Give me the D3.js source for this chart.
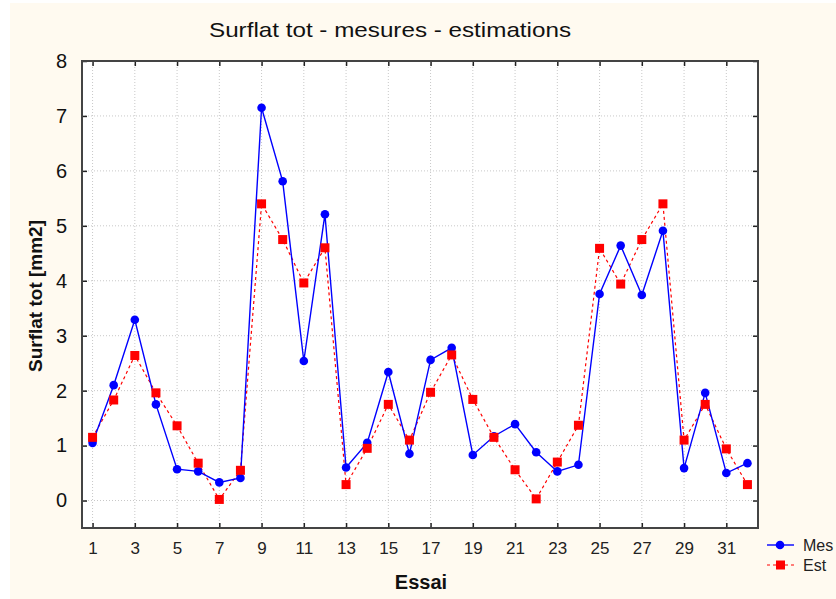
<!DOCTYPE html>
<html lang="en">
<head>
  <meta charset="UTF-8">
  <title>Surflat tot - mesures - estimations</title>
  <style>
    body { margin: 0; background: #fff; }
    svg { display: block; font-family: "Liberation Sans", Arial, sans-serif; }
  </style>
</head>
<body>
  <svg class="chart"></svg>
  <script src="https://cdn.jsdelivr.net/npm/d3@7/dist/d3.min.js"></script>
  <script>
    var w = 836, h = 599;

    // data
    var essai = d3.range(1, 33);
    var mes = [1.05, 2.10, 3.29, 1.75, 0.57, 0.53, 0.33, 0.41, 7.15, 5.81,
               2.54, 5.21, 0.60, 1.05, 2.34, 0.85, 2.56, 2.78, 0.83, 1.17,
               1.39, 0.88, 0.53, 0.65, 3.76, 4.64, 3.74, 4.91, 0.59, 1.96,
               0.50, 0.68];
    var est = [1.15, 1.83, 2.64, 1.96, 1.36, 0.68, 0.02, 0.55, 5.40, 4.75,
               3.96, 4.60, 0.29, 0.95, 1.75, 1.10, 1.97, 2.65, 1.84, 1.15,
               0.56, 0.03, 0.70, 1.37, 4.59, 3.94, 4.75, 5.40, 1.10, 1.75,
               0.94, 0.29];
    var xTicks = d3.range(1, 33, 2);
    var yTicks = d3.range(0, 9);

    var m = {left: 82, top: 61, right: 758, bottom: 528};

    var x = d3.scaleLinear().domain([0.5, 32.5]).range([m.left, m.right]);
    var y = d3.scaleLinear().domain([-0.5, 8]).range([m.bottom, m.top]);

    var svg = d3.select(".chart").attr("width", w).attr("height", h);

    svg.append("rect").attr("x", 10).attr("y", 3).attr("width", w - 10).attr("height", h - 3)
      .attr("fill", "#fffaf0");

    svg.append("rect")
      .attr("x", m.left).attr("y", m.top)
      .attr("width", m.right - m.left).attr("height", m.bottom - m.top)
      .attr("fill", "#fff");

    // grid
    var grid = svg.append("g").attr("stroke", "#c8c8c8").attr("stroke-dasharray", "1,2");
    grid.selectAll(".gx").data(xTicks).enter().append("line")
      .attr("x1", d => x(d)).attr("x2", d => x(d))
      .attr("y1", m.top).attr("y2", m.bottom);
    grid.selectAll(".gy").data(yTicks).enter().append("line")
      .attr("x1", m.left).attr("x2", m.right)
      .attr("y1", d => y(d)).attr("y2", d => y(d));

    // axes (ticks pointing inward on all four sides)
    var axB = svg.append("g").attr("transform", "translate(0," + m.bottom + ")")
      .call(d3.axisBottom(x).tickValues(xTicks).tickSize(-5).tickPadding(14).tickSizeOuter(0));
    var axT = svg.append("g").attr("transform", "translate(0," + m.top + ")")
      .call(d3.axisTop(x).tickValues(xTicks).tickSize(-5).tickFormat("").tickSizeOuter(0));
    var axL = svg.append("g").attr("transform", "translate(" + m.left + ",0)")
      .call(d3.axisLeft(y).tickValues(yTicks).tickSize(-5).tickPadding(15).tickSizeOuter(0));
    var axR = svg.append("g").attr("transform", "translate(" + m.right + ",0)")
      .call(d3.axisRight(y).tickValues(yTicks).tickSize(-5).tickFormat("").tickSizeOuter(0));
    [axB, axT, axL, axR].forEach(a => {
      a.select(".domain").remove();
      a.selectAll("line").attr("stroke", "#222").attr("stroke-width", 1.5);
    });
    axB.selectAll("text").attr("font-size", "17px").attr("fill", "#222")
      .attr("font-family", "Liberation Sans, Arial, sans-serif");
    axL.selectAll("text").attr("font-size", "20px").attr("fill", "#111")
      .attr("font-family", "Liberation Sans, Arial, sans-serif");

    svg.append("rect")
      .attr("x", m.left).attr("y", m.top)
      .attr("width", m.right - m.left).attr("height", m.bottom - m.top)
      .attr("fill", "none").attr("stroke", "#444").attr("stroke-width", 2);

    // series
    var line = (vals) => d3.line().x((d, i) => x(essai[i])).y(d => y(d))(vals);

    svg.append("path").attr("d", line(est))
      .attr("fill", "none").attr("stroke", "#ff0000").attr("stroke-width", 1.2)
      .attr("stroke-dasharray", "3,3");
    svg.append("path").attr("d", line(mes))
      .attr("fill", "none").attr("stroke", "#0000ff").attr("stroke-width", 1.4);

    svg.selectAll(".pm").data(mes).enter().append("circle")
      .attr("cx", (d, i) => x(essai[i])).attr("cy", d => y(d)).attr("r", 4.3)
      .attr("fill", "#0000ff");
    svg.selectAll(".pe").data(est).enter().append("rect")
      .attr("x", (d, i) => x(essai[i]) - 4.5).attr("y", d => y(d) - 4.5)
      .attr("width", 9).attr("height", 9)
      .attr("fill", "#ff0000");

    // titles
    svg.append("text").attr("x", 390).attr("y", 37).attr("text-anchor", "middle")
      .attr("font-size", "21px").attr("fill", "#111")
      .attr("textLength", 362).attr("lengthAdjust", "spacingAndGlyphs")
      .text("Surflat tot - mesures - estimations");
    svg.append("text").attr("x", 421).attr("y", 589).attr("text-anchor", "middle")
      .attr("font-size", "20px").attr("font-weight", "bold").attr("fill", "#111").text("Essai");
    svg.append("text").attr("transform", "translate(42,296) rotate(-90)").attr("text-anchor", "middle")
      .attr("font-size", "19px").attr("font-weight", "bold").attr("fill", "#111").text("Surflat tot [mm2]");

    // legend
    var leg = svg.append("g");
    leg.append("line").attr("x1", 767).attr("x2", 794).attr("y1", 545).attr("y2", 545)
      .attr("stroke", "#0000ff").attr("stroke-width", 1.4);
    leg.append("circle").attr("cx", 780).attr("cy", 545).attr("r", 4.3).attr("fill", "#0000ff");
    leg.append("line").attr("x1", 767).attr("x2", 794).attr("y1", 565).attr("y2", 565)
      .attr("stroke", "#ff0000").attr("stroke-width", 1.2).attr("stroke-dasharray", "3,3");
    leg.append("rect").attr("x", 776).attr("y", 560.5).attr("width", 9).attr("height", 9).attr("fill", "#ff0000");
    leg.append("text").attr("x", 803).attr("y", 551).attr("font-size", "16px").attr("fill", "#222").text("Mes");
    leg.append("text").attr("x", 803).attr("y", 571).attr("font-size", "16px").attr("fill", "#222").text("Est");
  </script>
</body>
</html>
